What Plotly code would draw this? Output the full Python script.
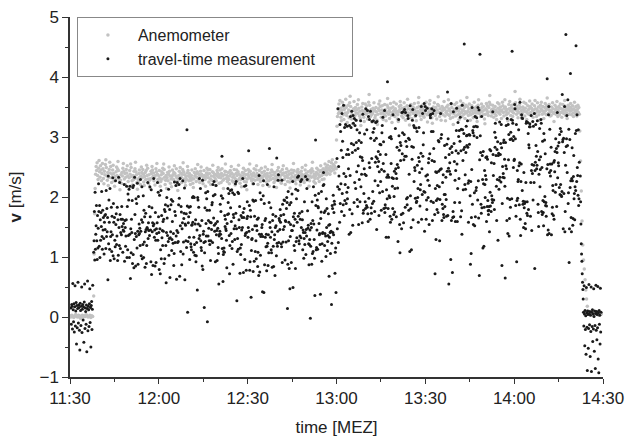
import numpy as np
import pandas as pd
import plotly.graph_objects as go

DAY = "2000-01-01 "

# ---------------- travel-time measurement (black) ----------------
tt1_span = ("11:30:20", "11:37:40")
tt1 = [0.15,-0.12,0.21,0.18,-0.20,0.56,0.12,-0.08,0.22,-0.25,0.17,0.52,-0.15,0.10,0.24,-0.45,0.19,-0.18,0.14,0.58,
       -0.10,0.20,0.16,-0.22,-0.55,0.23,0.11,-0.14,0.18,0.50,-0.26,0.13,0.21,-0.05,0.17,-0.42,0.25,0.55,-0.19,0.15,
       0.09,-0.12,0.20,-0.58,0.14,0.60,-0.23,0.18,0.12,-0.16,0.22,0.47,-0.09,0.16,-0.50,0.19,0.26,-0.21,0.13,0.53]

# tt2 / tt3 are listed as a table of 20 columns; the readings run down the columns in time order
tt2_span = ("11:38:00", "12:59:50")
tt2 = [1.08,1.14,1.62,2.18,0.97,1.33,1.41,1.87,1.22,0.79,2.04,1.56,1.49,1.11,2.27,1.68,0.88,1.35,1.92,1.74,
       1.27,2.11,1.03,0.64,1.58,1.45,1.99,2.21,1.17,1.38,0.92,1.71,1.84,1.29,0.41,1.52,2.09,1.63,1.06,1.19,
       1.76,1.34,2.33,1.47,1.21,0.85,1.65,1.98,1.12,1.43,1.56,2.14,0.73,1.31,1.89,1.02,1.27,2.26,1.61,1.39,
       0.95,1.81,1.49,1.07,2.02,1.74,1.36,0.68,1.53,1.24,2.19,1.91,1.15,1.46,0.87,2.65,1.58,1.32,1.09,1.77,
       2.08,1.42,1.19,1.63,0.99,1.28,1.85,2.31,1.54,0.16,1.37,1.72,1.04,1.95,1.61,1.23,0.81,1.49,2.17,1.35,
       1.13,1.66,2.24,1.41,1.78,0.91,1.26,1.52,1.99,1.07,1.44,2.06,1.69,0.76,1.33,1.18,1.87,2.29,1.55,1.01,
       1.38,0.62,1.71,1.94,1.25,1.47,2.13,1.09,1.58,1.82,0.94,1.36,1.21,2.22,1.64,1.43,0.47,1.76,1.29,1.97,
       1.52,2.35,1.14,0.89,1.67,1.39,1.03,1.84,2.01,1.26,1.59,0.72,1.45,1.93,1.17,2.28,1.34,1.62,0.98,1.49,
       1.86,1.22,1.41,2.16,0.83,1.57,1.31,1.75,1.08,2.07,1.48,1.19,1.66,0.93,1.38,2.37,1.54,1.12,0.36,1.81,
       1.27,1.95,1.63,1.04,1.42,2.24,1.79,0.87,1.33,1.56,1.16,2.11,1.49,1.68,0.77,1.24,1.91,1.45,2.03,1.11,
       0.96,1.58,1.37,2.19,1.73,1.28,0.66,1.47,1.99,1.35,1.06,1.82,2.31,1.52,1.18,1.64,0.91,1.41,2.95,1.26,
       1.69,1.13,1.84,0.82,1.46,2.08,1.32,1.57,1.21,1.97,0.55,1.39,1.74,1.09,2.21,1.61,1.44,0.98,1.86,1.36,
       1.15,2.14,1.51,1.29,0.89,1.67,1.42,2.27,1.03,1.78,1.35,1.59,0.74,1.94,1.23,1.46,2.05,1.31,1.12,1.72,
       1.48,0.94,1.63,2.33,1.19,1.41,1.87,1.05,1.55,-0.08,1.38,2.12,1.66,1.27,0.86,1.79,1.44,1.92,1.16,1.53,
       2.22,1.34,1.08,1.71,1.49,0.79,1.96,1.25,1.62,2.09,1.43,1.14,1.81,0.97,1.37,1.58,2.26,1.21,1.45,0.68,
       1.76,1.42,1.45,1.39,1.47,2.03,1.11,1.64,0.92,1.35,1.88,1.26,2.18,1.52,1.07,1.69,0.49,1.41,1.95,1.33,
       1.18,1.83,1.56,0.85,2.24,1.47,1.29,1.73,1.02,1.61,1.38,2.07,0.96,1.44,1.91,1.22,1.67,2.34,1.13,1.54,
       1.86,1.09,1.43,1.97,1.31,0.72,1.59,2.15,1.24,1.48,1.76,0.88,1.36,1.63,2.81,1.17,1.52,1.04,1.84,1.41,
       0.99,1.68,2.21,1.34,1.57,1.12,1.93,0.62,1.45,1.27,2.02,1.71,1.39,0.84,1.58,2.28,1.19,1.46,1.82,1.06,
       1.62,1.37,0.93,1.89,1.44,2.11,1.23,1.55,0.45,1.78,1.31,1.66,2.19,1.08,1.49,0.91,1.73,1.35,2.06,1.42,
       1.28,2.32,1.61,1.15,1.84,0.97,1.39,1.53,1.99,1.21,2.68,1.47,0.78,1.65,1.33,1.88,1.11,2.14,1.56,1.43,
       1.74,1.02,1.49,2.23,1.36,1.69,0.86,1.27,1.95,1.58,1.14,2.04,1.41,0.69,1.82,1.25,1.63,2.29,1.37,0.21,
       1.51,1.89,1.18,1.43,2.17,1.32,1.06,1.72,1.55,0.94,1.98,1.29,1.64,2.36,1.12,1.46,0.81,1.77,1.39,1.23,
       2.09,1.58,1.35,0.88,1.67,1.44,2.25,1.16,1.83,1.27,0.59,1.52,1.92,1.38,1.07,1.71,2.13,1.48,1.21,1.86,
       1.34,0.97,1.62,2.01,1.45,1.19,1.76,3.12,1.31,1.57,1.04,2.22,1.68,0.75,1.42,1.95,1.26,1.53,0.38,1.81,
       1.13,1.66,2.18,1.37,0.92,1.59,1.24,1.85,2.31,1.46,1.09,1.73,1.33,2.07,0.83,1.51,1.97,1.22,1.64,1.41,
       1.78,1.28,0.99,1.55,2.12,1.43,1.69,0.08,1.36,1.87,1.15,2.26,1.49,1.03,1.61,1.94,1.32,0.87,1.75,2.03,
       1.45,1.17,1.84,1.39,0.71,1.63,2.19,1.26,1.52,1.91,1.08,1.47,2.77,1.34,1.71,0.95,1.58,1.21,2.09,1.37,
       1.66,2.27,1.12,1.48,1.82,0.89,1.35,1.57,2.14,1.24,1.69,0.27,1.43,1.96,1.18,1.61,2.33,1.29,0.93,1.74,
       1.31,1.54,2.05,1.19,1.42,1.79,0.63,1.67,1.27,2.21,1.51,1.09,1.86,1.38,0.84,1.59,2.11,1.45,1.22,1.93,
       1.05,1.72,1.36,2.29,1.57,0.97,1.44,1.83,1.16,2.02,1.63,1.31,0.78,1.49,2.17,1.25,1.68,-0.02,1.39,1.88,
       1.58,1.21,1.95,1.43,0.86,1.76,2.24,1.33,1.11,1.65,1.47,2.08,0.92,1.54,1.29,1.81,2.35,1.18,1.41,0.73,
       1.69,1.35,2.13,1.02,1.52,1.87,1.24,0.96,1.61,2.26,1.44,1.13,1.78,0.42,1.37,1.99,1.27,1.56,2.19,1.08,
       1.46,1.83,0.99,1.62,2.31,1.19,1.41,1.74,0.85,1.53,1.28,2.06,1.67,1.34,0.69,1.91,1.22,1.49,2.41,1.15,
       1.71,0.94,1.38,2.17,1.55,0.57,1.26,1.84,2.28,1.43,0.82,1.62,0.33,2.02,1.49,0.14,1.73,0.88,2.21,0.41]

tt3_span = ("13:00:10", "14:22:00")
tt3 = [2.64,1.38,2.91,3.27,1.82,2.15,1.09,2.47,3.44,1.96,2.73,0.88,2.29,3.08,1.61,2.52,3.36,1.74,2.08,2.86,
       1.47,3.19,2.38,1.93,2.71,1.26,3.52,2.04,2.59,1.68,3.01,2.26,1.15,2.83,3.31,1.87,2.44,1.52,2.97,3.62,
       2.17,1.79,2.66,3.14,1.33,2.49,2.02,3.39,1.71,2.88,2.31,1.06,2.76,3.23,1.98,2.57,1.44,3.06,2.21,1.89,
       3.47,2.36,1.57,2.94,2.12,3.29,1.81,2.68,0.72,2.43,3.11,1.66,2.22,2.99,1.39,3.58,2.54,1.92,2.81,2.07,
       1.24,3.34,2.61,1.76,2.33,3.02,1.49,2.87,2.14,3.75,1.91,2.46,1.18,2.69,3.21,1.63,2.39,2.95,1.84,3.13,
       2.51,1.41,3.38,2.27,1.97,2.78,1.12,3.07,2.42,1.69,2.93,3.49,1.83,2.18,2.62,1.36,3.26,2.01,2.74,0.91,
       2.35,3.16,1.73,2.58,3.92,1.54,2.84,2.09,1.29,2.97,3.33,1.88,2.44,1.61,3.04,2.26,1.95,2.72,3.41,1.47,
       2.13,2.89,1.78,3.24,2.37,1.07,2.63,3.56,1.94,2.48,1.67,3.11,2.21,2.79,1.35,2.55,3.18,1.86,2.32,2.96,
       1.58,3.43,2.06,2.67,1.81,2.91,3.28,1.43,2.41,0.55,2.77,3.07,1.99,2.29,1.64,3.37,2.53,1.91,2.85,2.16,
       3.21,1.72,2.47,2.98,1.33,2.61,3.46,2.08,1.79,2.71,3.13,1.54,2.36,2.92,1.96,3.32,2.24,1.68,2.57,4.06,
       1.89,2.74,3.05,1.46,2.33,2.86,1.62,3.51,2.19,2.43,1.77,3.17,2.66,1.28,2.96,2.11,3.39,1.85,2.52,2.27,
       3.09,1.53,2.38,3.26,2.02,1.71,2.83,3.44,1.97,2.57,1.38,3.02,2.29,2.69,1.83,3.31,0.81,2.47,2.91,1.66,
       2.22,3.36,1.92,2.64,2.99,1.47,3.19,2.35,1.74,2.81,3.53,2.07,1.59,2.73,3.08,1.88,2.44,3.97,2.16,1.42,
       2.78,3.23,1.81,2.51,1.99,3.41,2.26,1.63,2.94,2.38,3.12,1.52,2.67,2.13,3.29,1.93,2.58,1.37,3.04,2.31,
       1.76,2.87,3.47,2.19,1.68,2.72,3.16,1.95,2.43,0.96,2.61,3.34,1.84,2.28,2.97,1.49,3.21,2.54,2.04,2.82,
       3.39,1.91,2.36,2.76,1.58,3.07,2.49,1.79,2.92,3.56,2.12,1.67,2.63,3.25,1.97,2.41,2.86,1.45,3.14,2.27,
       2.06,3.31,1.86,2.59,3.01,1.73,2.44,3.48,2.17,1.61,2.79,3.18,1.94,2.33,4.43,1.82,2.68,3.37,2.21,1.53,
       2.93,2.24,3.12,1.69,2.56,3.42,1.98,2.37,1.27,2.84,3.06,2.11,1.77,2.71,3.28,1.89,2.47,3.51,2.03,1.64,
       2.66,3.19,1.83,2.42,2.97,1.57,3.36,2.28,1.96,2.74,4.55,2.16,1.71,2.89,3.23,1.92,2.53,1.39,3.09,2.34,
       1.87,2.78,3.44,2.07,1.63,2.62,3.15,1.99,2.46,0.74,2.83,3.32,1.78,2.25,2.94,1.56,3.27,2.41,2.01,2.69,
       3.53,2.14,1.72,2.88,2.32,3.04,1.91,2.57,3.39,1.66,2.21,2.99,1.84,3.21,2.49,1.47,2.76,3.13,2.09,1.97,
       2.39,3.28,1.59,2.71,2.18,3.46,1.93,2.64,2.98,1.76,2.37,3.17,1.42,2.82,3.01,2.24,1.88,2.55,3.71,2.06,
       1.69,2.91,3.34,2.26,1.81,2.68,3.09,1.54,2.47,3.42,2.13,1.95,2.79,0.86,2.61,3.23,1.74,2.35,2.92,1.62,
       3.16,2.42,1.98,2.87,3.37,1.83,2.53,2.19,3.04,1.67,2.74,3.49,2.08,1.89,2.63,3.26,1.51,2.44,2.96,2.17,
       1.94,3.12,2.57,1.78,2.31,3.41,1.99,2.72,1.61,2.89,3.18,2.27,1.85,2.51,3.54,1.73,2.38,2.83,1.47,3.06,
       2.21,1.96,3.29,2.46,1.71,2.93,2.14,3.36,1.88,2.59,3.02,1.65,2.77,2.33,3.47,1.92,2.62,1.37,2.98,2.11,
       3.21,1.84,2.49,3.07,2.01,2.68,1.58,3.32,2.24,1.91,2.86,3.45,1.76,2.39,2.97,1.69,3.14,2.55,2.06,4.52,
       2.34,2.81,1.63,3.19,2.43,1.97,2.66,3.38,1.81,2.28,3.03,0.69,2.57,2.91,1.86,3.24,2.17,1.72,2.74,3.11,
       1.89,2.52,3.43,2.09,1.75,2.84,3.16,1.93,2.37,1.59,3.27,2.62,2.02,2.95,1.68,3.06,2.46,1.83,3.51,2.26,
       2.71,1.54,2.98,3.33,2.14,1.87,2.59,3.09,1.71,2.44,2.83,4.38,1.96,2.32,3.21,1.79,2.67,2.19,1.42,3.37,
       2.08,2.94,1.82,2.56,3.14,1.99,2.41,3.47,1.66,2.77,2.23,3.02,1.91,2.63,0.92,2.87,3.29,2.11,1.76,2.49,
       3.18,2.29,1.73,2.92,2.47,3.36,1.85,2.61,2.04,3.11,1.58,2.74,3.42,2.18,1.94,2.82,3.23,1.69,2.53,2.36,
       1.97,3.07,2.64,1.81,2.39,3.31,2.12,1.61,2.86,3.48,2.27,1.88,2.71,0.65,2.44,3.17,1.76,2.58,4.71,2.03,
       2.79,1.92,3.26,2.43,1.67,2.98,2.21,3.39,1.84,2.55,3.04,1.73,2.36,2.91,1.98,3.22,2.49,1.63,2.84,3.12,
       2.16,2.67,1.89,3.44,2.31,1.78,2.73,3.09,2.04,1.59,2.88,3.34,1.95,2.52,2.26,3.17,1.71,2.61,2.97,1.86,
       2.47,3.27,2.09,1.74,2.83,2.38,3.51,1.91,2.66,2.14,3.03,1.82,2.56,3.19,2.29,1.68,2.93,2.42,3.36,1.97,
       2.71,2.17,3.08,1.87,2.54,2.96,1.63,2.81,2.33,3.24,2.02,2.69,1.79,2.47,3.12,2.24,1.94,2.76,2.41,2.58]

tt4_span = ("14:22:20", "14:29:20")
tt4 = [2.35,1.92,1.55,1.22,1.05,0.93,0.72,0.58,0.46,0.30,
       0.08,-0.15,0.52,0.05,-0.48,0.11,-0.21,0.02,-0.62,0.49,0.07,-0.17,-0.89,0.10,0.04,-0.52,-0.19,0.54,0.06,-0.13,
       0.09,-0.66,0.03,-0.24,0.50,-0.91,0.08,-0.16,0.12,-0.41,0.05,-0.20,0.47,0.01,-0.57,0.10,-0.14,-0.86,0.06,0.53,
       -0.22,0.09,-0.38,0.04,-0.18,0.51,-0.70,0.07,-0.93,0.11,-0.12,0.03,-0.45,0.48,-0.25,0.08]

# ---------------- anemometer (grey) ----------------
an1_span = ("11:30:00", "11:37:40")
an1 = [0.02,0.00,0.03,0.01,-0.01,0.02,0.04,0.01,0.00,0.03,0.02,-0.02,0.01,0.03,0.00,0.02,0.01,0.04,0.02,0.00,
       0.01,0.03,-0.01,0.02,0.01]

an2_span = ("11:38:00", "12:59:55")
an2 = [0.35,1.05,1.72,2.14,2.38,2.51,2.44,2.57,2.36,2.29,2.48,2.61,2.42,2.33,2.52,2.45,2.27,2.39,2.56,2.47,
       2.31,2.22,2.43,2.37,2.54,2.62,2.49,2.35,2.28,2.41,2.19,2.33,2.46,2.58,2.40,2.51,2.32,2.24,2.38,2.45,
       2.53,2.39,2.27,2.18,2.34,2.29,2.42,2.50,2.36,2.47,2.59,2.44,2.31,2.25,2.12,2.28,2.37,2.23,2.41,2.35,
       2.48,2.56,2.43,2.30,2.39,2.21,2.33,2.46,2.40,2.52,2.35,2.26,2.17,2.32,2.44,2.38,2.55,2.49,2.34,2.27,
       2.20,2.36,2.29,2.43,2.31,2.47,2.58,2.42,2.37,2.24,2.13,2.30,2.26,2.39,2.45,2.33,2.21,2.35,2.50,2.41,
       2.32,2.46,2.38,2.25,2.19,2.34,2.41,2.29,2.44,2.53,2.36,2.48,2.30,2.22,2.37,2.28,2.15,2.31,2.43,2.39,
       2.51,2.45,2.34,2.40,2.27,2.33,2.20,2.36,2.47,2.42,2.56,2.38,2.29,2.24,2.35,2.44,2.31,2.18,2.26,2.37,
       2.42,2.30,2.48,2.39,2.55,2.46,2.33,2.21,2.28,2.36,2.14,2.32,2.41,2.27,2.38,2.50,2.43,2.35,2.23,2.30,
       2.17,2.34,2.45,2.37,2.29,2.41,2.52,2.39,2.26,2.35,2.47,2.32,2.20,2.11,2.28,2.36,2.43,2.31,2.49,2.40,
       2.33,2.24,2.38,2.46,2.57,2.42,2.30,2.37,2.25,2.19,2.34,2.29,2.40,2.51,2.44,2.35,2.27,2.39,2.32,2.21,
       2.28,2.36,2.45,2.31,2.23,2.16,2.30,2.41,2.35,2.47,2.38,2.26,2.33,2.42,2.54,2.39,2.29,2.37,2.24,2.34,
       2.43,2.50,2.38,2.27,2.35,2.22,2.31,2.44,2.36,2.29,2.18,2.33,2.40,2.48,2.37,2.45,2.32,2.25,2.39,2.46,
       2.30,2.21,2.35,2.28,2.42,2.53,2.41,2.34,2.26,2.38,2.31,2.19,2.27,2.36,2.44,2.40,2.49,2.33,2.23,2.37,
       2.45,2.32,2.24,2.39,2.47,2.35,2.28,2.14,2.30,2.37,2.43,2.55,2.42,2.31,2.36,2.26,2.34,2.41,2.29,2.22,
       2.35,2.44,2.38,2.51,2.40,2.27,2.33,2.25,2.37,2.46,2.32,2.20,2.29,2.39,2.45,2.36,2.28,2.42,2.53,2.38,
       2.31,2.23,2.36,2.29,2.17,2.33,2.41,2.35,2.48,2.39,2.26,2.32,2.44,2.37,2.25,2.12,2.30,2.38,2.46,2.34,
       2.42,2.55,2.43,2.31,2.38,2.27,2.35,2.22,2.30,2.40,2.47,2.36,2.28,2.34,2.45,2.52,2.39,2.29,2.21,2.33,
       2.37,2.44,2.30,2.26,2.35,2.48,2.41,2.32,2.19,2.28,2.36,2.43,2.38,2.50,2.34,2.25,2.31,2.39,2.46,2.35,
       2.27,2.18,2.33,2.40,2.29,2.36,2.45,2.54,2.42,2.31,2.37,2.24,2.30,2.41,2.35,2.28,2.16,2.32,2.44,2.38,
       2.49,2.36,2.27,2.34,2.42,2.30,2.23,2.37,2.46,2.39,2.52,2.40,2.29,2.35,2.21,2.33,2.41,2.47,2.36,2.26,
       2.32,2.43,2.38,2.25,2.15,2.31,2.39,2.45,2.34,2.28,2.40,2.56,2.44,2.33,2.27,2.36,2.22,2.30,2.42,2.37,
       2.46,2.35,2.29,2.41,2.33,2.20,2.34,2.43,2.38,2.49,2.36,2.27,2.32,2.24,2.37,2.45,2.53,2.39,2.31,2.28,
       2.36,2.42,2.30,2.18,2.27,2.35,2.44,2.40,2.33,2.47,2.58,2.43,2.34,2.26,2.38,2.31,2.23,2.35,2.41,2.48,
       2.39,2.31,2.45,2.37,2.26,2.34,2.42,2.52,2.44,2.36,2.29,2.40,2.47,2.38,2.30,2.45,2.55,2.41,2.49,2.37,
       2.44,2.53,2.40,2.48,2.59,2.46,2.38,2.51,2.43,2.57,2.49,2.62,2.45,2.54,2.46,2.52,2.40,2.49,2.58,2.47]

an3_span = ("13:00:00", "14:22:00")
an3 = [2.95,3.18,3.34,3.47,3.39,3.55,3.42,3.61,3.48,3.33,3.27,3.44,3.58,3.50,3.37,3.29,3.46,3.52,3.40,3.63,
       3.49,3.36,3.24,3.41,3.53,3.45,3.32,3.57,3.68,3.51,3.43,3.30,3.38,3.22,3.35,3.47,3.59,3.44,3.36,3.49,
       3.40,3.28,3.45,3.54,3.39,3.62,3.48,3.35,3.43,3.31,3.19,3.37,3.50,3.44,3.56,3.41,3.33,3.26,3.42,3.55,
       3.47,3.38,3.52,3.44,3.30,3.41,3.58,3.71,3.53,3.40,3.34,3.46,3.37,3.25,3.39,3.48,3.43,3.57,3.45,3.32,
       3.36,3.49,3.42,3.28,3.21,3.38,3.47,3.55,3.44,3.60,3.51,3.39,3.33,3.45,3.52,3.40,3.29,3.43,3.37,3.54,
       3.46,3.35,3.27,3.41,3.53,3.64,3.49,3.38,3.44,3.31,3.42,3.56,3.48,3.36,3.24,3.39,3.50,3.43,3.58,3.45,
       3.34,3.47,3.40,3.55,3.43,3.30,3.37,3.26,3.42,3.51,3.46,3.59,3.53,3.41,3.35,3.48,3.39,3.32,3.45,3.57,
       3.49,3.38,3.28,3.44,3.36,3.52,3.63,3.47,3.40,3.33,3.20,3.37,3.46,3.54,3.42,3.31,3.43,3.50,3.39,3.48,
       3.56,3.45,3.34,3.41,3.27,3.38,3.49,3.43,3.57,3.66,3.51,3.40,3.35,3.46,3.29,3.42,3.53,3.47,3.36,3.44,
       3.33,3.40,3.52,3.45,3.58,3.49,3.37,3.25,3.39,3.48,3.42,3.55,3.61,3.47,3.38,3.44,3.32,3.23,3.41,3.50,
       3.46,3.57,3.43,3.36,3.49,3.40,3.30,3.45,3.54,3.67,3.52,3.41,3.34,3.47,3.39,3.28,3.42,3.51,3.44,3.37,
       3.48,3.59,3.46,3.35,3.27,3.41,3.50,3.43,3.38,3.53,3.62,3.47,3.36,3.44,3.31,3.40,3.55,3.49,3.42,3.33,
       3.21,3.39,3.46,3.54,3.42,3.35,3.48,3.57,3.45,3.37,3.50,3.43,3.29,3.38,3.47,3.60,3.52,3.41,3.34,3.45,
       3.56,3.44,3.38,3.49,3.31,3.42,3.53,3.40,3.66,3.51,3.43,3.36,3.47,3.55,3.41,3.28,3.37,3.46,3.52,3.44,
       3.39,3.32,3.45,3.58,3.48,3.41,3.35,3.50,3.44,3.26,3.40,3.53,3.62,3.47,3.39,3.46,3.34,3.42,3.55,3.49,
       3.43,3.37,3.51,3.45,3.30,3.22,3.38,3.47,3.56,3.44,3.52,3.41,3.36,3.49,3.58,3.69,3.54,3.42,3.35,3.46,
       3.40,3.53,3.47,3.33,3.44,3.39,3.51,3.45,3.36,3.29,3.42,3.57,3.48,3.41,3.55,3.46,3.38,3.50,3.43,3.31,
       3.45,3.58,3.52,3.41,3.35,3.48,3.62,3.50,3.43,3.37,3.46,3.39,3.27,3.40,3.54,3.47,3.59,3.44,3.36,3.49,
       3.53,3.42,3.34,3.46,3.40,3.55,3.48,3.76,3.57,3.45,3.38,3.51,3.43,3.32,3.47,3.41,3.54,3.63,3.49,3.37,
       3.44,3.31,3.39,3.50,3.46,3.58,3.43,3.35,3.48,3.56,3.42,3.29,3.40,3.52,3.45,3.38,3.47,3.60,3.51,3.41,
       3.36,3.48,3.55,3.44,3.33,3.45,3.39,3.52,3.61,3.47,3.40,3.34,3.46,3.57,3.43,3.50,3.37,3.28,3.42,3.53,
       3.47,3.58,3.45,3.38,3.51,3.43,3.31,3.40,3.49,3.56,3.44,3.37,3.52,3.65,3.48,3.39,3.46,3.54,3.41,3.35,
       3.44,3.36,3.50,3.42,3.57,3.47,3.39,3.26,3.41,3.53,3.46,3.38,3.49,3.59,3.45,3.34,3.43,3.51,3.37,3.48,
       3.55,3.41,3.47,3.33,3.42,3.54,3.46,3.39,3.52,3.61,3.44,3.36,3.49,3.40,3.31,3.45,3.53,3.47,3.38,3.50,
       3.43,3.56,3.48,3.37,3.45,3.52,3.40,3.34,3.47,3.58,3.44,3.39,3.51,3.42,3.35,3.46,3.53,3.41,3.49,3.38]

an4_span = ("14:22:10", "14:29:30")
an4 = [3.10,2.60,2.10,1.60,1.20,0.95,0.80,0.62,0.45,0.30,0.18,0.10,
       0.05,0.07,0.04,0.06,0.08,0.05,0.03,0.06,0.07,0.04,0.05,0.08,0.06,0.03,0.05,0.07,0.04,0.06]

x_ticks = ["11:30", "12:00", "12:30", "13:00", "13:30", "14:00", "14:30"]


def times(span, n):
    return pd.date_range(DAY + span[0], DAY + span[1], periods=n)


def column_order(vals, width=20):
    # readings of a 20-column table, taken down the columns
    return list(np.array(vals).reshape(-1, width).T.ravel())


anem_x, anem_y, tt_x, tt_y = [], [], [], []
for span, vals in [(an1_span, an1), (an2_span, an2), (an3_span, an3), (an4_span, an4)]:
    anem_x += list(times(span, len(vals)))
    anem_y += vals
for span, vals in [(tt1_span, tt1), (tt2_span, column_order(tt2)),
                   (tt3_span, column_order(tt3)), (tt4_span, tt4)]:
    tt_x += list(times(span, len(vals)))
    tt_y += list(vals)

FONT = "Arial, Liberation Sans, sans-serif"
NBSP = "\u00a0"

fig = go.Figure()
fig.add_trace(go.Scatter(x=anem_x, y=anem_y, mode="markers", name="Anemometer",
                         marker=dict(color="#c2c2c2", size=3.5, line=dict(width=0))))
fig.add_trace(go.Scatter(x=tt_x, y=tt_y, mode="markers", name="travel-time measurement" + NBSP * 7,
                         marker=dict(color="#1a1a1a", size=3, line=dict(width=0))))

tickvals = [pd.Timestamp(DAY + t) for t in x_ticks]

fig.update_layout(
    width=627, height=439,
    margin=dict(l=70, r=24, t=17, b=62),
    paper_bgcolor="white", plot_bgcolor="white",
    font=dict(family=FONT, size=17, color="#222"),
    showlegend=True,
    legend=dict(x=0.013, y=1.0, xanchor="left", yanchor="top",
                bordercolor="#888", borderwidth=1, bgcolor="white",
                font=dict(size=16), itemwidth=50, tracegroupgap=0),
    xaxis=dict(
        range=[tickvals[0], tickvals[-1]],
        tickvals=tickvals, ticktext=x_ticks, automargin=False,
        showline=True, linecolor="#333", linewidth=1.5,
        ticks="outside", ticklen=5, tickwidth=1.2, tickcolor="#333",
        minor=dict(dtick=15 * 60 * 1000, ticks="outside", ticklen=3, tickcolor="#333", tickwidth=1),
        showgrid=False, zeroline=False,
        title=dict(text="time [MEZ]", font=dict(size=17), standoff=14),
        tickfont=dict(size=17),
    ),
    yaxis=dict(
        range=[-1, 5], dtick=1, automargin=False,
        showline=True, linecolor="#333", linewidth=1.5,
        ticks="outside", ticklen=6, tickwidth=1.2, tickcolor="#333",
        minor=dict(dtick=0.5, ticks="outside", ticklen=3, tickcolor="#333", tickwidth=1),
        showgrid=False, zeroline=False,
        title=dict(text="<b>v</b> [m/s]", font=dict(size=17), standoff=14),
        tickfont=dict(size=17),
    ),
)

fig.write_html("out.html", config={"displayModeBar": False},
               post_script="document.body.style.margin='0';document.body.style.overflow='hidden';")
